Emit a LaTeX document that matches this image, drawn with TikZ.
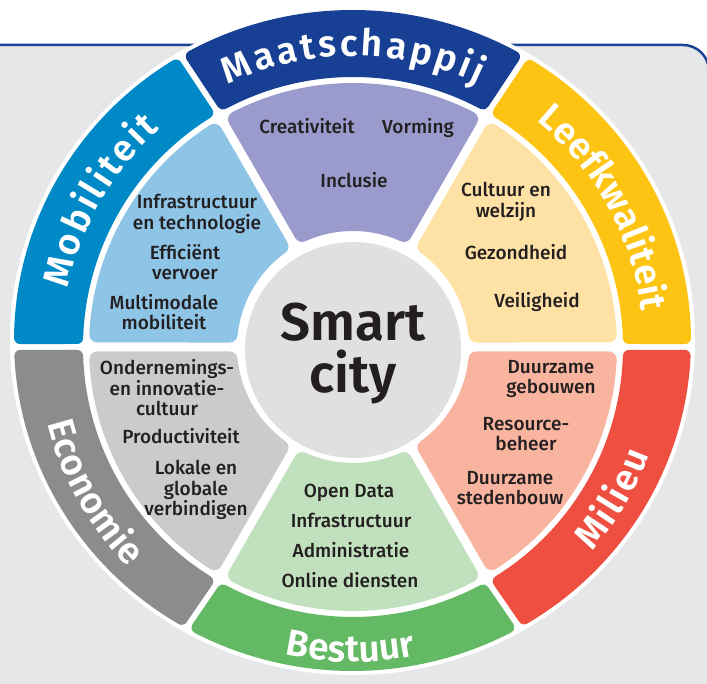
\documentclass[tikz,border=0pt]{standalone}
\usepackage{fontspec}
\setmainfont{Fira Sans}
\newfontfamily\itemfont{Fira Sans Medium}
\newfontfamily\bandfont{Fira Sans SemiBold}
\usepackage{tikz}
\usetikzlibrary{calc,decorations.text}

\definecolor{bg}{HTML}{E6E7E9}
\definecolor{edge}{HTML}{1C4396}
\definecolor{ink}{HTML}{231F20}
\definecolor{core}{HTML}{E0E0E0}
\definecolor{maatband}{HTML}{174094}
\definecolor{maatpart}{HTML}{9A9BCC}
\definecolor{leefband}{HTML}{FDC414}
\definecolor{leefpart}{HTML}{FEE1A5}
\definecolor{milband}{HTML}{EF4F40}
\definecolor{milpart}{HTML}{F8B49F}
\definecolor{bestband}{HTML}{64B964}
\definecolor{bestpart}{HTML}{C1E0BD}
\definecolor{ecoband}{HTML}{8B8C8E}
\definecolor{ecopart}{HTML}{CACBCD}
\definecolor{mobband}{HTML}{0089C7}
\definecolor{mobpart}{HTML}{8EC4E6}

\begin{document}
\begin{tikzpicture}[x=1pt,y=1pt,
  band/.style={line width=12pt,line join=round},
  part/.style={line width=16pt,line join=round},
  item/.style={font=\itemfont\fontsize{19}{20.5}\selectfont,text=ink,align=center,inner sep=0pt},
  bandtext/.style={decorate,decoration={text along path,text color=white,text align=fit to path,
    text={|\bandfont\fontsize{37}{37}\selectfont|#1}}}]
  \useasboundingbox (0,0) rectangle (707,684);
  \fill[bg] (0,0) -- (0,639) -- (683,639) arc[start angle=90,end angle=0,radius=26] -- (709,0) -- cycle;
  \draw[edge,line width=2.5pt] (0,639) -- (683,639) arc[start angle=90,end angle=0,radius=26] -- (709,0);

  \coordinate (ci) at (353,337);
  \coordinate (co) at (352.5,343.5);
  \fill[white] (co) ellipse[x radius=342.5,y radius=334.5];

  \foreach \a/\bc/\pc in {60/maatband/maatpart,0/leefband/leefpart,-60/milband/milpart,
      -120/bestband/bestpart,180/ecoband/ecopart,120/mobband/mobpart}{
    \pgfmathsetmacro{\b}{\a+60}
    \pgfmathsetmacro{\sa}{\a+1.572-(0.5*sin(\a)+6.5*cos(\a))*0.1747}
    \pgfmathsetmacro{\eb}{\b-1.572-(0.5*sin(\b)+6.5*cos(\b))*0.1747}
    \filldraw[band,draw=\bc,fill=\bc] ($(ci)+(\a+1.868:276)$) -- ($(co)+(\sa:332.5 and 324.5)$)
      arc[start angle=\sa,end angle=\eb,x radius=332.5,y radius=324.5]
      -- ($(ci)+(\b-1.868:276)$) arc[start angle=\b-1.868,end angle=\a+1.868,radius=276] -- cycle;
    \filldraw[part,draw=\pc,fill=\pc] ($(ci)+(\a+5.78:124)$) -- ($(ci)+(\a+2.8:256)$)
      arc[start angle=\a+2.8,end angle=\b-2.8,radius=256]
      -- ($(ci)+(\b-5.78:124)$) arc[start angle=\b-5.78,end angle=\a+5.78,radius=124] -- cycle;
  }

  \node[name=hub,circle,fill=core,minimum size=216pt,inner sep=0pt] at (353,334) {};
  \node[name=title,font=\bandfont\fontsize{53}{52}\selectfont,text=ink,align=center,inner sep=0pt] at (353,330) {Smart\\city};

  \path[bandtext=Maatschappij] ($(ci)+(115.5:291)$) arc[start angle=115.5,end angle=64.5,radius=291];
  \path[bandtext=Leefkwaliteit] ($(ci)+(51:291)$) arc[start angle=51,end angle=7,radius=291];
  \path[bandtext=Milieu] ($(ci)+(-40.5:315)$) arc[start angle=-40.5,end angle=-20,radius=315];
  \path[bandtext=Bestuur] ($(ci)+(257.5:315)$) arc[start angle=257.5,end angle=281,radius=315];
  \path[bandtext=Economie] ($(ci)+(194:315)$) arc[start angle=194,end angle=224.5,radius=315];
  \path[bandtext=Mobiliteit] ($(ci)+(168.5:291)$) arc[start angle=168.5,end angle=131.5,radius=291];

  \node[item,name=cre] at (307,558) {Creativiteit};
  \node[item,name=vor] at (418,556) {Vorming};
  \node[item,name=inc] at (354,504) {Inclusie};
  \node[item,name=cul] at (506,482) {Cultuur en\\welzijn};
  \node[item,name=gez] at (516,432) {Gezondheid};
  \node[item,name=vei] at (537,382) {Veiligheid};
  \node[item,name=geb] at (551,305) {Duurzame\\gebouwen};
  \node[item,name=res] at (526,250) {Resource-\\beheer};
  \node[item,name=std] at (510,196) {Duurzame\\stedenbouw};
  \node[item,name=opd] at (349,191) {Open Data};
  \node[item,name=inf] at (351,164) {Infrastructuur};
  \node[item,name=adm] at (351,134) {Administratie};
  \node[item,name=onl] at (350,104) {Online diensten};
  \node[item,name=ond] at (167,296) {Ondernemings-\\en innovatie-\\cultuur};
  \node[item,name=pro] at (181,248) {Productiviteit};
  \node[item,name=lok] at (196,194) {Lokale en\\globale\\verbindigen};
  \node[item,name=tec] at (197,470) {Infrastructuur\\en technologie};
  \node[item,name=eff] at (185,422) {Efficiënt\\vervoer};
  \node[item,name=mul] at (164,372) {Multimodale\\mobiliteit};
\end{tikzpicture}
\end{document}
